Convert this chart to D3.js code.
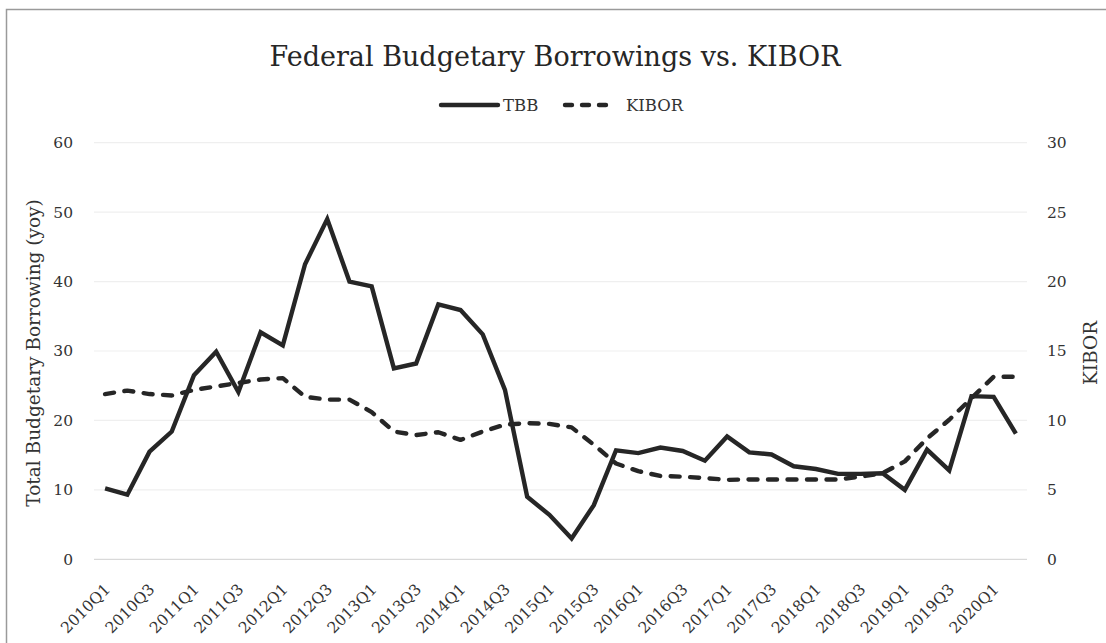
<!DOCTYPE html>
<html>
<head>
<meta charset="utf-8">
<script src="https://cdn.jsdelivr.net/npm/d3@7"></script>
<style>
  html, body { margin: 0; padding: 0; background: #fff; }
  svg { display: block; font-family: "DejaVu Serif", "Liberation Serif", serif; }
</style>
</head>
<body>
<svg id="chart" width="1106" height="643"></svg>
<script>
// Quarterly periods, 2010Q1 – 2020Q2
const quarters = [
  "2010Q1","2010Q2","2010Q3","2010Q4",
  "2011Q1","2011Q2","2011Q3","2011Q4",
  "2012Q1","2012Q2","2012Q3","2012Q4",
  "2013Q1","2013Q2","2013Q3","2013Q4",
  "2014Q1","2014Q2","2014Q3","2014Q4",
  "2015Q1","2015Q2","2015Q3","2015Q4",
  "2016Q1","2016Q2","2016Q3","2016Q4",
  "2017Q1","2017Q2","2017Q3","2017Q4",
  "2018Q1","2018Q2","2018Q3","2018Q4",
  "2019Q1","2019Q2","2019Q3","2019Q4",
  "2020Q1","2020Q2"
];

// Total budgetary borrowing, year-on-year growth (%)
const tbb = [
  10.2, 9.3, 15.5, 18.4,
  26.5, 29.9, 24.1, 32.7,
  30.8, 42.5, 49.0, 40.0,
  39.3, 27.5, 28.2, 36.7,
  35.9, 32.4, 24.4, 9.0,
  6.4, 3.0, 7.8, 15.7,
  15.3, 16.1, 15.6, 14.2,
  17.7, 15.4, 15.1, 13.4,
  13.0, 12.3, 12.3, 12.4,
  10.0, 15.8, 12.8, 23.5,
  23.4, 18.1
];

// KIBOR (%)
const kibor = [
  11.9, 12.15, 11.9, 11.8,
  12.2, 12.45, 12.7, 12.95,
  13.05, 11.7, 11.5, 11.5,
  10.6, 9.2, 8.95, 9.15,
  8.6, 9.2, 9.7, 9.8,
  9.75, 9.5, 8.25, 6.9,
  6.35, 6.0, 5.95, 5.85,
  5.72, 5.75, 5.75, 5.75,
  5.75, 5.75, 5.95, 6.2,
  7.05, 8.7, 10.05, 11.6,
  13.15, 13.15
];

const leftTicks = [0, 10, 20, 30, 40, 50, 60];
const rightTicks = [0, 5, 10, 15, 20, 25, 30];

const ink = "#262626";
const textColor = "#333333";
const tickFont = "15.5px";

const svg = d3.select("#chart");

// outer chart frame
svg.append("rect")
  .attr("x", 6.5).attr("y", 9.5)
  .attr("width", 1200).attr("height", 700)
  .attr("fill", "#fff")
  .attr("stroke", "#9a9a9a").attr("stroke-width", 1.5);

const plot = { left: 94, right: 1027, top: 142.7, bottom: 559.3 };

const x = d3.scalePoint()
  .domain(quarters)
  .range([plot.left, plot.right])
  .padding(0.5);

const yL = d3.scaleLinear().domain([0, 60]).range([plot.bottom, plot.top]);
const yR = d3.scaleLinear().domain([0, 30]).range([plot.bottom, plot.top]);

// horizontal gridlines
svg.append("g")
  .selectAll("line")
  .data(leftTicks)
  .join("line")
  .attr("x1", plot.left).attr("x2", plot.right)
  .attr("y1", d => yL(d)).attr("y2", d => yL(d))
  .attr("stroke", d => d === 0 ? "#d9d9d9" : "#efefef")
  .attr("stroke-width", 1.2);

// left axis labels
const leftAxis = d3.axisLeft(yL).tickValues(leftTicks).tickSize(0).tickPadding(0);
svg.append("g")
  .attr("transform", `translate(${73},0)`)
  .call(leftAxis)
  .call(g => g.select(".domain").remove())
  .call(g => g.selectAll("text")
    .attr("fill", textColor)
    .style("font-family", "DejaVu Serif")
    .style("font-size", tickFont));

// right axis labels
const rightAxis = d3.axisRight(yR).tickValues(rightTicks).tickSize(0).tickPadding(0);
svg.append("g")
  .attr("transform", `translate(${1047},0)`)
  .call(rightAxis)
  .call(g => g.select(".domain").remove())
  .call(g => g.selectAll("text")
    .attr("fill", textColor)
    .style("font-family", "DejaVu Serif")
    .style("font-size", tickFont));

// bottom category axis: every second quarter labelled, rotated
const xAxis = d3.axisBottom(x)
  .tickValues(quarters.filter((q, i) => i % 2 === 0))
  .tickSize(0).tickPadding(0);
svg.append("g")
  .attr("transform", `translate(0,${plot.bottom})`)
  .call(xAxis)
  .call(g => g.select(".domain").remove())
  .call(g => g.selectAll("text")
    .attr("fill", textColor)
    .style("font-family", "DejaVu Serif")
    .style("font-size", tickFont)
    .attr("text-anchor", "end")
    .attr("dy", null)
    .attr("y", 0)
    .attr("transform", "translate(5.5,31) rotate(-45)"));

// series lines
const lineL = d3.line().x((d, i) => x(quarters[i])).y(d => yL(d));
const lineR = d3.line().x((d, i) => x(quarters[i])).y(d => yR(d));

svg.append("path")
  .datum(kibor)
  .attr("d", lineR)
  .attr("fill", "none")
  .attr("stroke", ink)
  .attr("stroke-width", 4.4)
  .attr("stroke-linecap", "round")
  .attr("stroke-linejoin", "round")
  .attr("stroke-dasharray", "9 10.5");

svg.append("path")
  .datum(tbb)
  .attr("d", lineL)
  .attr("fill", "none")
  .attr("stroke", ink)
  .attr("stroke-width", 4.4)
  .attr("stroke-linejoin", "miter");

// title
svg.append("text")
  .attr("x", 555).attr("y", 66)
  .attr("text-anchor", "middle")
  .attr("fill", ink)
  .style("font-size", "27px")
  .text("Federal Budgetary Borrowings vs. KIBOR");

// legend
const legend = svg.append("g");
legend.append("line")
  .attr("x1", 441).attr("x2", 498).attr("y1", 105).attr("y2", 105)
  .attr("stroke", ink).attr("stroke-width", 4.4).attr("stroke-linecap", "round");
legend.append("text")
  .attr("x", 503).attr("y", 110.5)
  .attr("fill", textColor).style("font-size", "16.5px")
  .text("TBB");
legend.append("line")
  .attr("x1", 565).attr("x2", 614).attr("y1", 105).attr("y2", 105)
  .attr("stroke", ink).attr("stroke-width", 4.4).attr("stroke-linecap", "round")
  .attr("stroke-dasharray", "7 10");
legend.append("text")
  .attr("x", 626).attr("y", 110.5)
  .attr("fill", textColor).style("font-size", "16.5px")
  .text("KIBOR");

// axis titles
svg.append("text")
  .attr("transform", `translate(40,${(plot.top + plot.bottom) / 2 + 2}) rotate(-90)`)
  .attr("text-anchor", "middle")
  .attr("fill", textColor)
  .style("font-size", "18.5px")
  .text("Total Budgetary Borrowing (yoy)");

svg.append("text")
  .attr("transform", `translate(1097,${(plot.top + plot.bottom) / 2 + 2}) rotate(-90)`)
  .attr("text-anchor", "middle")
  .attr("fill", textColor)
  .style("font-size", "18.5px")
  .text("KIBOR");
</script>
</body>
</html>
